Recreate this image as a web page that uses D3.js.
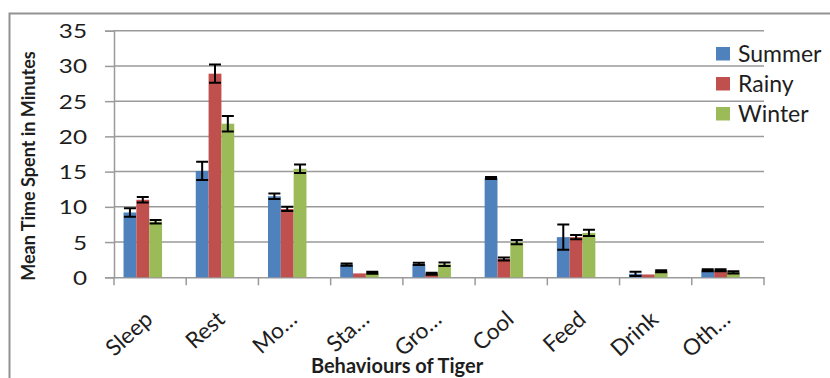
<!DOCTYPE html>
<html>
<head>
<meta charset="utf-8">
<script src="https://cdn.jsdelivr.net/npm/d3@7"></script>
<style>
  html, body { margin: 0; padding: 0; background: #fff; }
  svg { display: block; }
  text { font-family: Lato, "Open Sans", sans-serif; fill: #1e1e1e; }
</style>
</head>
<body>
<svg id="chart" width="830" height="378"></svg>
<script>
// Behaviour categories of the tiger (long names are truncated on the axis)
const categories = ["Sleep", "Rest", "Mo\u2026", "Sta\u2026", "Gro\u2026", "Cool", "Feed", "Drink", "Oth\u2026"];
const seasons = ["Summer", "Rainy", "Winter"];

// Mean time spent (minutes) per behaviour, per season
const summer = [9.2, 15.1, 11.5, 1.8, 1.9, 14.1, 5.7, 0.5, 1.0];
const rainy  = [11.0, 28.9, 9.7, 0.55, 0.5, 2.6, 5.7, 0.4, 1.0];
const winter = [7.9, 21.8, 15.4, 0.65, 1.85, 5.0, 6.3, 0.85, 0.7];

// Standard errors drawn as error bars
const summerErr = [0.6, 1.3, 0.4, 0.15, 0.15, 0.15, 1.8, 0.3, 0.15];
const rainyErr  = [0.4, 1.3, 0.3, 0, 0.15, 0.2, 0.3, 0, 0.15];
const winterErr = [0.25, 1.1, 0.6, 0.15, 0.25, 0.3, 0.45, 0.15, 0.15];

const yTicks = [0, 5, 10, 15, 20, 25, 30, 35];
const colors = ["#4F81BD", "#C0504D", "#9BBB59"];

const values = [summer, rainy, winter];
const errors = [summerErr, rainyErr, winterErr];

const svg = d3.select("#chart");
const plot = { left: 114, right: 764, top: 30.7, bottom: 277.3 };

const x = d3.scaleBand().domain(categories).range([plot.left, plot.right]).padding(0);
const bw = x.bandwidth();
const xs = d3.scaleBand().domain(seasons).range([bw * 0.132, bw * 0.665]).padding(0);
const y = d3.scaleLinear().domain([0, 35]).range([plot.bottom, plot.top]);

const axisGrey = "#9a9a9a";

// outer frame (left and top edges)
svg.append("path")
  .attr("d", `M9.5,378 V13.5 H830`)
  .attr("fill", "none").attr("stroke", "#929292").attr("stroke-width", 2);

// horizontal gridlines
svg.append("g").selectAll("line").data(yTicks.slice(1)).join("line")
  .attr("x1", plot.left).attr("x2", plot.right)
  .attr("y1", d => y(d)).attr("y2", d => y(d))
  .attr("stroke", axisGrey).attr("stroke-width", 1.5);

// y axis
const yAxis = svg.append("g").attr("transform", `translate(${plot.left},0)`)
  .call(d3.axisLeft(y).tickValues(yTicks).tickSize(9).tickPadding(0).tickFormat(d3.format("d")));
yAxis.select(".domain").attr("stroke", axisGrey).attr("stroke-width", 1.5);
yAxis.selectAll(".tick line").attr("stroke", axisGrey).attr("stroke-width", 1.5);
yAxis.selectAll(".tick text").remove();
yAxis.selectAll(".tick").append("text")
  .attr("text-anchor", "end")
  .attr("transform", "translate(-27,7) scale(1.28,1)")
  .style("font-size", "19px")
  .text(d => d);

// x axis
const xAxis = svg.append("g").attr("transform", `translate(0,${plot.bottom})`)
  .call(d3.axisBottom(x).tickSize(0).tickFormat(""));
xAxis.select(".domain").attr("stroke", axisGrey).attr("stroke-width", 1.5);
xAxis.selectAll(".tick").remove();
const bounds = categories.map(c => x(c)).concat([plot.right]);
xAxis.selectAll("line.bound").data(bounds).join("line")
  .attr("class", "bound")
  .attr("x1", d => d).attr("x2", d => d).attr("y1", 0).attr("y2", 8)
  .attr("stroke", axisGrey).attr("stroke-width", 1.5);

// rotated category labels
svg.append("g").selectAll("text").data(categories).join("text")
  .attr("text-anchor", "end")
  .attr("transform", d => `translate(${x(d) + bw / 2 + 4},${plot.bottom + 44}) rotate(-42)`)
  .style("font-size", "22.5px")
  .text(d => d);

// bars
const groups = svg.append("g").selectAll("g").data(seasons).join("g")
  .attr("fill", (d, i) => colors[i]);
groups.each(function (s, si) {
  d3.select(this).selectAll("rect").data(categories).join("rect")
    .attr("x", c => x(c) + xs(s))
    .attr("width", xs.bandwidth())
    .attr("y", (c, ci) => y(values[si][ci]))
    .attr("height", (c, ci) => y(0) - y(values[si][ci]));
});

// error bars
const capW = 12;
seasons.forEach((s, si) => {
  const g = svg.append("g").attr("stroke", "#000").attr("stroke-width", 2).attr("fill", "none");
  categories.forEach((c, ci) => {
    const e = errors[si][ci];
    if (!e) return;
    const cx = x(c) + xs(s) + xs.bandwidth() / 2;
    const hi = y(values[si][ci] + e), lo = y(values[si][ci] - e);
    g.append("path")
      .attr("d", `M${cx},${hi} V${lo} M${cx - capW / 2},${hi} H${cx + capW / 2} M${cx - capW / 2},${lo} H${cx + capW / 2}`);
  });
});

// axis titles
svg.append("text")
  .attr("transform", `translate(35,166) rotate(-90)`)
  .attr("text-anchor", "middle")
  .style("font-size", "18px").style("font-weight", "bold")
  .text("Mean Time Spent in Minutes");

svg.append("text")
  .attr("x", 397).attr("y", 373)
  .attr("text-anchor", "middle")
  .style("font-size", "20px").style("font-weight", "bold")
  .text("Behaviours of Tiger");

// legend
const legend = svg.append("g").attr("transform", "translate(716,47)");
seasons.forEach((s, i) => {
  const row = legend.append("g").attr("transform", `translate(0,${i * 30})`);
  row.append("rect").attr("width", 14).attr("height", 13.5).attr("fill", colors[i]);
  row.append("text").attr("x", 22).attr("y", 14.5)
    .style("font-size", "23px").text(s);
});
</script>
</body>
</html>
